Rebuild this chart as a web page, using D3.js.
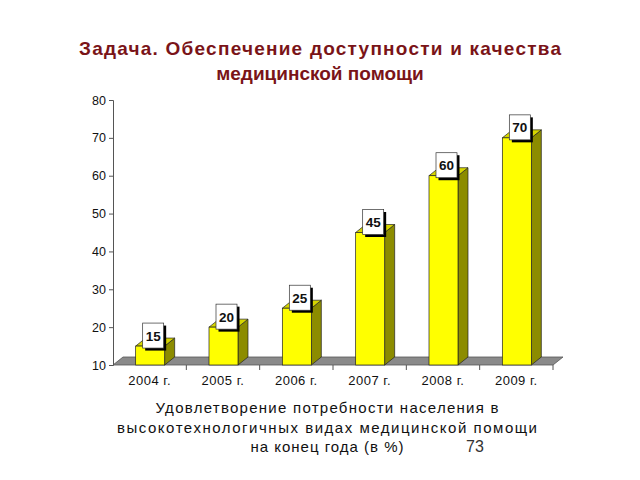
<!DOCTYPE html>
<html><head><meta charset="utf-8">
<script src="https://cdn.jsdelivr.net/npm/d3@7"></script>
<style>body{margin:0;background:#fff}svg{display:block}</style>
</head><body>
<svg id="c" width="640" height="480"></svg>
<script>
const categories = ["2004 г.","2005 г.","2006 г.","2007 г.","2008 г.","2009 г."];
const values = [15,20,25,45,60,70];
const yTicks = [10,20,30,40,50,60,70,80];
const titleLines = ["Задача. Обеспечение доступности и качества","медицинской помощи"];
const captionLines = ["Удовлетворение потребности населения в","высокотехнологичных видах медицинской помощи","на конец года (в %)"];
const pageNumber = "73";

const svg = d3.select("#c");
const x = d3.scaleBand().domain(categories).range([113,553]).padding(0);
const y = d3.scaleLinear().domain([10,80]).range([365,100]);
const DX = 10, DY = -8;
const barW = 29;

// title
const tc = "#7a1418";
svg.selectAll("text.title").data(titleLines).join("text")
  .attr("x",320).attr("y",(d,i)=>55+i*25)
  .attr("text-anchor","middle").attr("font-family","Liberation Sans, Arial, sans-serif")
  .attr("font-weight","bold").attr("font-size",19).attr("fill",tc)
  .attr("textLength",(d,i)=>i===0?482:null)
  .text(d=>d);

// floor
const y0 = y(10);
svg.append("polygon")
  .attr("points",[[113,y0],[553,y0],[553+DX,y0+DY],[113+DX,y0+DY]].map(p=>p.join(",")).join(" "))
  .attr("fill","#8a8a8a").attr("stroke","#555").attr("stroke-width",0.8);

// y axis
const yAxis = d3.axisLeft(y).tickValues(yTicks).tickSize(4).tickPadding(3);
const ga = svg.append("g").attr("transform","translate(113,0)").call(yAxis);
ga.select(".domain").attr("stroke","#555");
ga.selectAll(".tick line").attr("stroke","#555");
ga.selectAll(".tick text").attr("font-family","Liberation Sans, Arial, sans-serif").attr("font-size",12.5).attr("fill","#111");

// x axis ticks & labels
const xAxis = d3.axisBottom(x).tickSize(0).tickPadding(11);
const gx = svg.append("g").attr("transform",`translate(0,${y0})`).call(xAxis);
gx.select(".domain").remove();
gx.selectAll(".tick text").attr("font-family","Liberation Sans, Arial, sans-serif").attr("font-size",13).attr("fill","#111").attr("letter-spacing",0.5);
svg.append("g").selectAll("line").data(categories.slice(1).concat(["end"])).join("line")
  .attr("x1",(d,i)=>113+(i+1)*x.bandwidth()).attr("x2",(d,i)=>113+(i+1)*x.bandwidth())
  .attr("y1",y0).attr("y2",y0+5).attr("stroke","#555");

// bars
const bars = svg.append("g").selectAll("g").data(values.map((v,i)=>({v,c:categories[i]}))).join("g");
bars.each(function(d){
  const g = d3.select(this);
  const x0 = x(d.c)+x.bandwidth()/2-14, x1 = x0+barW;
  const yt = y(d.v);
  g.append("polygon").attr("points",[[x1,yt],[x1+DX,yt+DY],[x1+DX,y0+DY],[x1,y0]].map(p=>p.join(",")).join(" "))
    .attr("fill","#8c8c00").attr("stroke","#222").attr("stroke-width",0.7);
  g.append("polygon").attr("points",[[x0,yt],[x1,yt],[x1+DX,yt+DY],[x0+DX,yt+DY]].map(p=>p.join(",")).join(" "))
    .attr("fill","#d6d600").attr("stroke","#222").attr("stroke-width",0.7);
  g.append("rect").attr("x",x0).attr("y",yt).attr("width",barW).attr("height",y0-yt)
    .attr("fill","#ffff00").attr("stroke","#222").attr("stroke-width",0.7);
  // label
  const bw=21, bh=25, cx=(x0+x1)/2+3, by=yt+2-bh;
  g.append("rect").attr("x",cx-bw/2+2.5).attr("y",by+2.5).attr("width",bw).attr("height",bh).attr("fill","#000");
  g.append("rect").attr("x",cx-bw/2).attr("y",by).attr("width",bw).attr("height",bh).attr("fill","#fff").attr("stroke","#333").attr("stroke-width",0.7);
  g.append("text").attr("x",cx).attr("y",by+bh/2+5).attr("text-anchor","middle")
    .attr("font-family","Liberation Sans, Arial, sans-serif").attr("font-weight","bold").attr("font-size",13.5).attr("fill","#111")
    .text(d.v);
});

// caption
const capW = [343,420,153];
svg.selectAll("text.cap").data(captionLines).join("text")
  .attr("x",327).attr("y",(d,i)=>413+i*19.5).attr("text-anchor","middle")
  .attr("font-family","Liberation Sans, Arial, sans-serif").attr("font-size",15).attr("fill","#111")
  .attr("textLength",(d,i)=>capW[i]).attr("lengthAdjust","spacing")
  .text(d=>d);
svg.append("text").attr("x",475).attr("y",452).attr("text-anchor","middle")
  .attr("font-family","Liberation Sans, Arial, sans-serif").attr("font-size",16).attr("fill","#333").text(pageNumber);
</script>
</body></html>
